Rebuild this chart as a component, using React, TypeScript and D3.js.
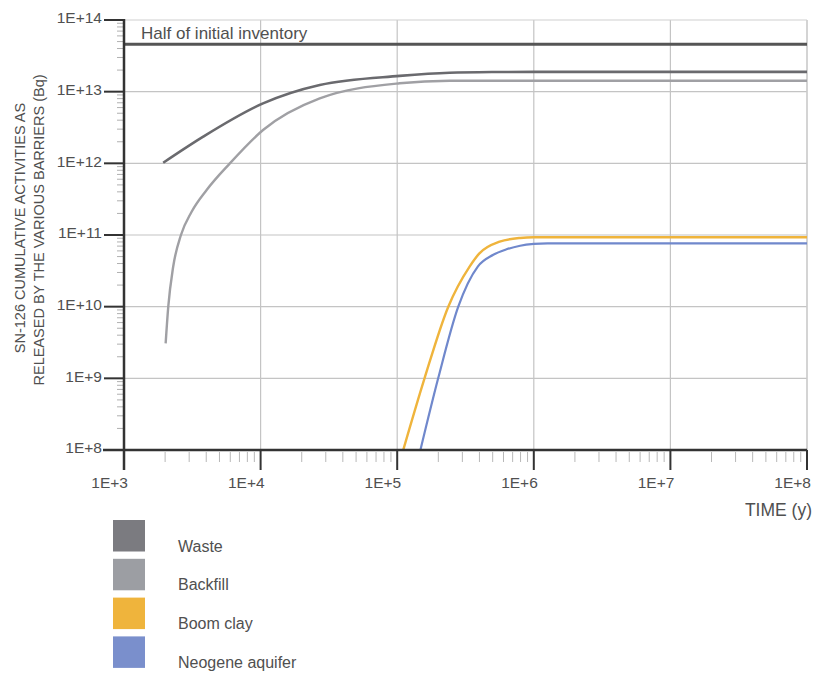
import React from "react";
import * as d3 from "d3";

const xTicks = [1e3, 1e4, 1e5, 1e6, 1e7, 1e8];
const xTickLabels = ["1E+3", "1E+4", "1E+5", "1E+6", "1E+7", "1E+8"];
const yTicks = [1e8, 1e9, 1e10, 1e11, 1e12, 1e13, 1e14];
const yTickLabels = ["1E+8", "1E+9", "1E+10", "1E+11", "1E+12", "1E+13", "1E+14"];

const halfInventory = 4.6e13;
const halfInventoryLabel = "Half of initial inventory";

const wasteTime = [1936, 3802, 10420, 27100, 104200, 241500, 5e5, 1e6, 1e8];
const wasteValue = [1.02e12, 2.36e12, 6.87e12, 1.24e13, 1.66e13, 1.84e13, 1.88e13, 1.89e13, 1.89e13];

const backfillTime = [2018, 2109, 2291, 2612, 3126, 4027, 5957, 10420, 27100, 104200, 241500, 1e6, 1e8];
const backfillValue = [3.08e9, 1e10, 3.61e10, 1e11, 2.11e11, 4.25e11, 1e12, 2.92e12, 8.07e12, 1.31e13, 1.42e13, 1.42e13, 1.42e13];

const boomTime = [110700, 158500, 236600, 338800, 398100, 562300, 794300, 1e6, 1e8];
const boomValue = [1e8, 1e9, 1e10, 3.63e10, 5.5e10, 8.07e10, 9.1e10, 9.3e10, 9.3e10];

const neogeneTime = [147900, 199500, 279900, 389000, 501200, 631000, 794300, 1e6, 1.26e6, 1e8];
const neogeneValue = [1e8, 1e9, 1e10, 3.63e10, 5.25e10, 6.31e10, 7.08e10, 7.5e10, 7.65e10, 7.65e10];

const seriesNames = ["Waste", "Backfill", "Boom clay", "Neogene aquifer"];
const seriesLineColors = ["#6a6a6e", "#a0a0a4", "#efb43c", "#7088cc"];
const seriesSwatchColors = ["#7b7b80", "#9c9ea3", "#efb43c", "#7a8fcc"];

const xAxisTitle = "TIME (y)";
const yAxisTitle1 = "SN-126 CUMULATIVE ACTIVITIES AS";
const yAxisTitle2 = "RELEASED BY THE VARIOUS BARRIERS (Bq)";

export default function App() {
  const x0 = 124, x1 = 807, yTop = 20, yBot = 450;
  const x = d3.scaleLog().domain([1e3, 1e8]).range([x0, x1]);
  const y = d3.scaleLog().domain([1e8, 1e14]).range([yBot, yTop]);

  const line = d3
    .line<[number, number]>()
    .x((d) => x(d[0]))
    .y((d) => y(d[1]))
    .curve(d3.curveMonotoneX);

  const series = [
    { t: wasteTime, v: wasteValue },
    { t: backfillTime, v: backfillValue },
    { t: boomTime, v: boomValue },
    { t: neogeneTime, v: neogeneValue },
  ];
  const widths = [2.6, 2.4, 2.4, 2.2];

  const minorX: number[] = [];
  for (let e = 3; e < 8; e++) for (let m = 2; m <= 9; m++) minorX.push(m * Math.pow(10, e));
  const minorY: number[] = [];
  for (let e = 8; e < 14; e++) for (let m = 2; m <= 9; m++) minorY.push(m * Math.pow(10, e));

  const font = "'Liberation Sans', Arial, sans-serif";
  const textColor = "#505050";

  return (
    <svg width={814} height={673} style={{ position: "absolute", left: 0, top: 0, background: "#fff" }} fontFamily={font}>
      <defs>
        <clipPath id="plotClip">
          <rect x={x0} y={yTop} width={x1 - x0} height={yBot - yTop} />
        </clipPath>
      </defs>
      {/* grid */}
      {xTicks.slice(1).map((t, i) => (
        <line key={"gx" + i} x1={x(t)} x2={x(t)} y1={yTop} y2={yBot} stroke="#c4c4c4" strokeWidth={1.2} />
      ))}
      {yTicks.slice(0, -1).map((t, i) => (
        <line key={"gy" + i} x1={x0} x2={x1} y1={y(t)} y2={y(t)} stroke="#c4c4c4" strokeWidth={1.2} />
      ))}
      <line x1={x0} x2={x1} y1={yTop} y2={yTop} stroke="#cfcfcf" strokeWidth={1.2} />
      <line x1={x1} x2={x1} y1={yTop} y2={yBot} stroke="#cfcfcf" strokeWidth={1.2} />

      {/* half inventory */}
      <line x1={x0} x2={x1} y1={y(halfInventory)} y2={y(halfInventory)} stroke="#555" strokeWidth={3} />
      <text x={141} y={39} fontSize={17} fill={textColor}>{halfInventoryLabel}</text>

      {/* series */}
      <g clipPath="url(#plotClip)">
        {series.map((s, i) => (
          <path
            key={"s" + i}
            d={line(s.t.map((t, j) => [t, s.v[j]] as [number, number])) || ""}
            fill="none"
            stroke={seriesLineColors[i]}
            strokeWidth={widths[i]}
            strokeLinejoin="round"
          />
        ))}
      </g>

      {/* y axis */}
      {minorY.map((t, i) => (
        <line key={"my" + i} x1={117} x2={x0} y1={y(t)} y2={y(t)} stroke="#b0b0b0" strokeWidth={1} />
      ))}
      {yTicks.map((t, i) => (
        <g key={"yt" + i}>
          <line x1={104} x2={x0} y1={y(t)} y2={y(t)} stroke="#333" strokeWidth={2} />
          <text x={102} y={y(t) - 2} dy="0.35em" textAnchor="end" fontSize={15.5} fill={textColor}>
            {yTickLabels[i]}
          </text>
        </g>
      ))}
      <line x1={x0} x2={x0} y1={yTop - 1} y2={yBot + 20} stroke="#333" strokeWidth={2.5} />

      {/* x axis */}
      {minorX.map((t, i) => (
        <line key={"mx" + i} x1={x(t)} x2={x(t)} y1={yBot + 2} y2={yBot + 12} stroke="#b8b8b8" strokeWidth={1} />
      ))}
      <line x1={103} x2={x1} y1={yBot} y2={yBot} stroke="#333" strokeWidth={2.5} />
      {xTicks.map((t, i) => (
        <g key={"xt" + i}>
          <line x1={x(t)} x2={x(t)} y1={yBot} y2={yBot + 20} stroke="#333" strokeWidth={2} />
          <text x={x(t) + 4} y={488} textAnchor="end" fontSize={15.5} fill={textColor}>
            {xTickLabels[i]}
          </text>
        </g>
      ))}
      <text x={812} y={516} textAnchor="end" fontSize={17.5} fill={textColor}>{xAxisTitle}</text>

      {/* y title */}
      <text transform="translate(25,228) rotate(-90)" textAnchor="middle" fontSize={14.5} fill={textColor}>{yAxisTitle1}</text>
      <text transform="translate(44,230) rotate(-90)" textAnchor="middle" fontSize={14.5} fill={textColor}>{yAxisTitle2}</text>

      {/* legend */}
      {seriesNames.map((n, i) => (
        <g key={"lg" + i}>
          <rect x={113} y={520 + i * 38.8} width={32} height={31.5} fill={seriesSwatchColors[i]} />
          <text x={178} y={551.5 + i * 38.8} fontSize={16} fill={textColor}>{n}</text>
        </g>
      ))}
    </svg>
  );
}
